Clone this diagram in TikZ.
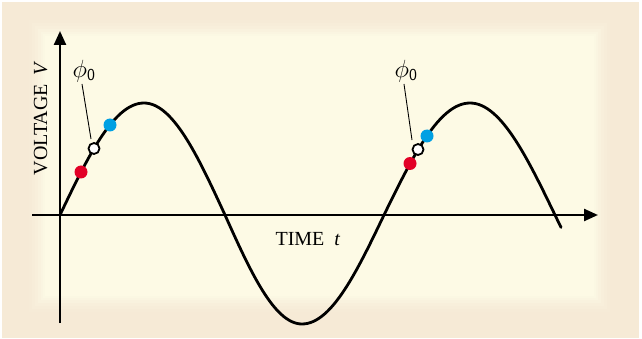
\documentclass[tikz,border=0pt]{standalone}
\usepackage{fontspec}
\setmainfont{Liberation Serif}
\usetikzlibrary{arrows.meta}
\definecolor{outerbg}{RGB}{246,234,214}
\definecolor{innerbg}{RGB}{253,250,229}
\definecolor{dotred}{RGB}{226,0,38}
\definecolor{dotblue}{RGB}{0,160,227}
\tikzset{
  axis/.style={line width=2.4pt, -{Triangle[length=14pt,width=12pt]}},
  wave/.style={line width=2.8pt, line join=round, line cap=round},
  leader/.style={line width=0.9pt},
  reddot/.style={circle, fill=dotred, inner sep=0pt, minimum size=13pt},
  bluedot/.style={circle, fill=dotblue, inner sep=0pt, minimum size=13pt},
  whitedot/.style={circle, fill=white, draw=black, line width=1.8pt, inner sep=0pt, minimum size=11pt},
  lbl/.style={font=\fontsize{20}{24}\selectfont, inner sep=0pt},
  phil/.style={font=\fontsize{24}{28}\selectfont, inner sep=0pt},
}
\begin{document}
\begin{tikzpicture}[x=1pt,y=-1pt]
\useasboundingbox (0,0) rectangle (642,339);
\fill[white] (0,0) rectangle (642,339);
\fill[outerbg] (2,2) rectangle (639,338);
% soft inner panel
\foreach \d/\o in {16/0.1,13/0.15,10/0.22,7/0.3,4/0.45,2/0.65,0/1}{
  \fill[innerbg, opacity=\o] (45-\d,36-\d) rectangle (594+\d,296+\d);
}
% axes
\coordinate (vbot) at (60,323);
\coordinate (vtop) at (60,31);
\coordinate (hleft) at (32,215);
\coordinate (hright) at (598,215);
\draw[axis] (vbot) -- (vtop);
\draw[axis] (hleft) -- (hright);
% wave: quarter-sine pieces
\draw[wave]
  plot[domain=60:144, samples=30] (\x,{215-112*sin(90*(\x-60)/84)})
  -- plot[domain=144:225, samples=30] (\x,{215-112*cos(90*(\x-144)/81)})
  -- plot[domain=225:302, samples=30] (\x,{215+109*sin(90*(\x-225)/77)})
  -- plot[domain=302:384, samples=30] (\x,{215+109*cos(90*(\x-302)/82)})
  -- plot[domain=384:470, samples=30] (\x,{215-112*sin(90*(\x-384)/86)})
  -- plot[domain=470:561, samples=32] (\x,{215-112*cos(90*(\x-470)/85)});
% dots, first group
\node[reddot] (r1) at (81,172) {};
\node[whitedot] (w1) at (94,148.5) {};
\node[bluedot] (b1) at (110,125) {};
% dots, second group
\node[reddot] (r2) at (410,163.5) {};
\node[whitedot] (w2) at (418,149.5) {};
\node[bluedot] (b2) at (427,136) {};
% phi labels and leaders
\node[phil] (p1) at (84,71) {$\phi_{\mathsf{0}}$};
\node[phil] (p2) at (406,71) {$\phi_{\mathsf{0}}$};
\coordinate (l1a) at (82,84);
\coordinate (l1b) at (91,139);
\coordinate (l2a) at (404,84);
\coordinate (l2b) at (412,140);
\draw[leader] (l1a) -- (l1b);
\draw[leader] (l2a) -- (l2b);
% axis labels
\node[lbl, rotate=90, anchor=base] (vlab) at (47,118) {VOLTAGE\hspace{0.45em}\textit{V}};
\node[lbl, anchor=base] (tlab) at (308,245) {TIME\hspace{0.5em}\textit{t}};
\end{tikzpicture}
\end{document}
